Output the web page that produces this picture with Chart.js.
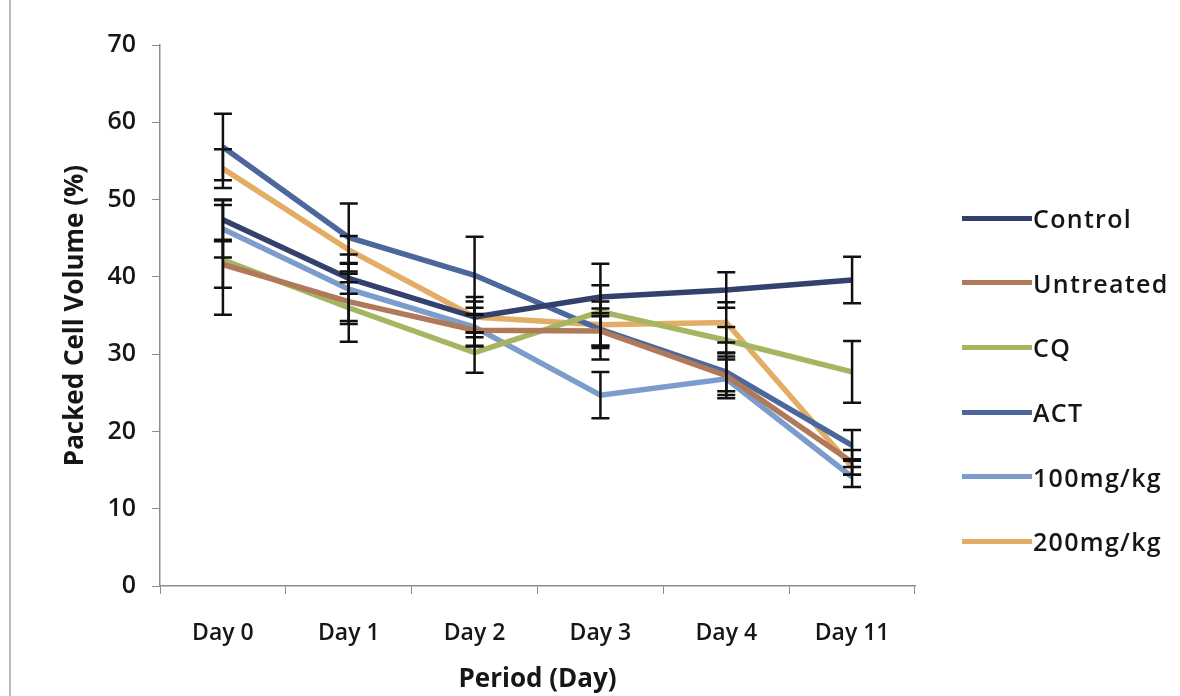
<!DOCTYPE html>
<html>
<head>
<meta charset="utf-8">
<title>Packed Cell Volume</title>
<script src="https://cdn.jsdelivr.net/npm/chart.js@4.4.1/dist/chart.umd.min.js"></script>
<style>
    body { margin: 0; background: #fff; }
    .wrap { position: relative; width: 1180px; height: 696px; overflow: hidden; }
    .scanEdge { position: absolute; left: 9px; top: 0; width: 2px; height: 696px; background: #b9b9b9; }
    #legendBox { position: absolute; left: 962px; top: 186px; font-family: "Open Sans", sans-serif; font-weight: 600; font-size: 25px; letter-spacing: 1.3px; color: #161616; }
    .legendRow { display: flex; align-items: center; height: 64.6px; }
    .legendLine { width: 70px; height: 5px; margin-right: 1px; }
</style>
</head>
<body>
<div class="wrap">
    <div class="scanEdge"></div>
    <canvas id="myChart" width="1180" height="696"></canvas>
    <div id="legendBox"></div>
</div>
<script>
// data
var days = ['Day 0', 'Day 1', 'Day 2', 'Day 3', 'Day 4', 'Day 11'];
var seriesNames = ['Control', 'Untreated', 'CQ', 'ACT', '100mg/kg', '200mg/kg'];

var control   = [47.4, 39.8, 34.8, 37.4, 38.3, 39.6];
var untreated = [41.6, 36.8, 33.1, 33.0, 27.2, 16.0];
var cq        = [42.2, 36.0, 30.2, 35.5, 31.8, 27.7];
var act       = [56.8, 45.1, 40.2, 33.2, 27.7, 18.2];
var mg100     = [46.2, 38.4, 33.5, 24.7, 26.8, 14.1];
var mg200     = [54.0, 43.5, 34.8, 33.8, 34.1, 15.4];

// error bar (+/-) values
var controlErr   = [2.6, 2.0, 2.6, 1.5, 2.3, 3.0];
var untreatedErr = [3.0, 2.5, 2.0, 1.9, 2.5, 1.6];
var cqErr        = [7.1, 4.4, 2.6, 6.2, 1.7, 4.0];
var actErr       = [4.3, 4.4, 5.0, 2.1, 2.5, 2.0];
var mg100Err     = [3.7, 4.5, 2.5, 3.0, 2.5, 1.3];
var mg200Err     = [2.5, 1.8, 2.0, 3.0, 2.6, 1.0];

var yTicks = [0, 10, 20, 30, 40, 50, 60, 70];

var colors = ['#34406e', '#b07a5a', '#a6b562', '#4c679c', '#7c9dcb', '#e3ad66'];
var allValues = [control, untreated, cq, act, mg100, mg200];
var allErrors = [controlErr, untreatedErr, cqErr, actErr, mg100Err, mg200Err];

var textColor = '#161616';
var axisColor = '#8c8c8c';
var fontFamily = '"Open Sans", sans-serif';

// error bars are drawn after the lines
var errorBars = {
    id: 'errorBars',
    afterDatasetsDraw: function (chart) {
        var ctx = chart.ctx;
        var xs = chart.scales.x, ys = chart.scales.y;
        ctx.save();
        ctx.strokeStyle = '#111';
        ctx.lineWidth = 2.5;
        chart.data.datasets.forEach(function (ds) {
            ds.errors.forEach(function (e, i) {
                var px = xs.getPixelForValue(i);
                var top = ys.getPixelForValue(ds.data[i] + e);
                var bot = ys.getPixelForValue(ds.data[i] - e);
                ctx.beginPath();
                ctx.moveTo(px, top); ctx.lineTo(px, bot);
                ctx.moveTo(px - 9, top); ctx.lineTo(px + 9, top);
                ctx.moveTo(px - 9, bot); ctx.lineTo(px + 9, bot);
                ctx.stroke();
            });
        });
        ctx.restore();
    }
};

var datasets = seriesNames.map(function (name, k) {
    return {
        label: name,
        data: allValues[k],
        errors: allErrors[k],
        borderColor: colors[k],
        borderWidth: 5.5,
        pointRadius: 0,
        tension: 0,
        fill: false
    };
});

var ctx = document.getElementById('myChart').getContext('2d');
var chart = new Chart(ctx, {
    type: 'line',
    data: { labels: days, datasets: datasets },
    options: {
        responsive: false,
        animation: false,
        layout: { padding: { left: 60, top: 45, right: 265, bottom: 1 } },
        plugins: { legend: { display: false }, tooltip: { enabled: false } },
        scales: {
            x: {
                offset: true,
                grid: { offset: true, drawOnChartArea: false, tickLength: 8, color: axisColor },
                border: { color: axisColor, width: 1.5 },
                ticks: { padding: 26, color: textColor, font: { family: fontFamily, size: 23, weight: '600' } },
                title: { display: true, text: 'Period (Day)', color: textColor, padding: 0,
                    font: { family: fontFamily, size: 26, weight: 'bold' } },
                afterFit: function (s) { s.height = 696 - 586 - 1; }
            },
            y: {
                min: 0,
                max: 70,
                afterBuildTicks: function (s) { s.ticks = yTicks.map(function (v) { return { value: v }; }); },
                grid: { drawOnChartArea: false, tickLength: 8, color: axisColor },
                border: { color: axisColor, width: 1.5 },
                ticks: { padding: 16, color: textColor, font: { family: fontFamily, size: 25, weight: '600' } },
                title: { display: true, text: 'Packed Cell Volume (%)', color: textColor, padding: 0,
                    font: { family: fontFamily, size: 26, weight: 'bold' } },
                afterFit: function (s) { s.width = 100; }
            }
        }
    },
    plugins: [errorBars]
});

// legend on the right
var legendBox = document.getElementById('legendBox');
seriesNames.forEach(function (name, k) {
    var row = document.createElement('div');
    row.className = 'legendRow';
    var line = document.createElement('span');
    line.className = 'legendLine';
    line.style.background = colors[k];
    var txt = document.createElement('span');
    txt.textContent = name;
    row.appendChild(line);
    row.appendChild(txt);
    legendBox.appendChild(row);
});
</script>
</body>
</html>
